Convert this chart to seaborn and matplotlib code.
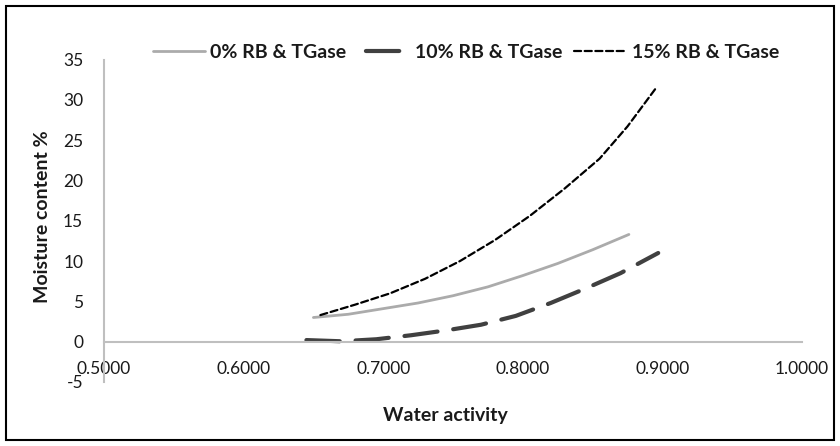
import numpy as np
import pandas as pd
import matplotlib
matplotlib.use('Agg')
import matplotlib.pyplot as plt
import seaborn as sns
from matplotlib.patches import Rectangle

# ---- data ----
series_names = ['0% RB & TGase', '10% RB & TGase', '15% RB & TGase']
aw_0 = [0.650, 0.675, 0.700, 0.725, 0.750, 0.775, 0.800, 0.825, 0.850, 0.876]
mc_0 = [3.0, 3.4, 4.1, 4.8, 5.7, 6.8, 8.2, 9.7, 11.4, 13.3]
aw_10 = [0.645, 0.670, 0.695, 0.720, 0.745, 0.770, 0.795, 0.820, 0.845, 0.870, 0.897]
mc_10 = [0.2, 0.05, 0.3, 0.8, 1.4, 2.1, 3.2, 4.8, 6.6, 8.5, 11.0]
aw_15 = [0.655, 0.680, 0.705, 0.730, 0.755, 0.780, 0.805, 0.830, 0.855, 0.875, 0.896]
mc_15 = [3.3, 4.6, 6.0, 7.8, 10.0, 12.6, 15.6, 19.0, 22.7, 26.7, 31.6]
x_ticks = [0.5, 0.6, 0.7, 0.8, 0.9, 1.0]
y_ticks = [-5, 0, 5, 10, 15, 20, 25, 30, 35]
x_title = 'Water activity'
y_title = 'Moisture content %'

sns.set_theme(style='white')
plt.rcParams['font.family'] = ['Lato', 'DejaVu Sans']

W, H = 840, 446
fig = plt.figure(figsize=(W / 100, H / 100), dpi=100)
ax = fig.add_axes([104 / W, 1 - 382 / H, (802 - 104) / W, (382 - 59.5) / H])

styles = [
    dict(color='#ababab', lw=2.0, linestyle='-'),
    dict(color='#404040', lw=3.0, linestyle=(0, (8, 3.8))),
    dict(color='#000000', lw=1.6, linestyle=(0, (3.2, 1.6))),
]
data = [(aw_0, mc_0), (aw_10, mc_10), (aw_15, mc_15)]
for name, (xs, ys), st in zip(series_names, data, styles):
    df = pd.DataFrame({'aw': xs, 'mc': ys})
    sns.lineplot(data=df, x='aw', y='mc', ax=ax, label=name, sort=True,
                 estimator=None, solid_capstyle='round', dash_capstyle='round', **st)

ax.set_xlim(0.5, 1.0)
ax.set_ylim(-5, 35)
ax.set_xticks(x_ticks)
ax.set_xticklabels([f'{v:.4f}' for v in x_ticks])
ax.set_yticks(y_ticks)
ax.set_yticklabels([str(v) for v in y_ticks])
ax.set_xlabel('')
ax.set_ylabel('')
for s in ['top', 'right']:
    ax.spines[s].set_visible(False)
ax.spines['bottom'].set_position(('data', 0))
for s in ['left', 'bottom']:
    ax.spines[s].set_color('#bfbfbf')
    ax.spines[s].set_linewidth(1.5)
ax.tick_params(axis='x', length=0, pad=14, labelsize=12.5, colors='#1a1a1a')
ax.tick_params(axis='y', length=0, pad=15, labelsize=12.5, colors='#1a1a1a')
ax.grid(False)
ax.patch.set_alpha(0)

fig.text(445 / W, 1 - 416 / H, x_title, ha='center', va='center',
         fontsize=14, fontweight='bold', color='#1a1a1a')
fig.text(43 / W, 1 - 217 / H, y_title, ha='center', va='center', rotation=90,
         fontsize=14, fontweight='bold', color='#1a1a1a')

leg = ax.legend(loc='center', bbox_to_anchor=(466 / W, 1 - 52.7 / H),
                bbox_transform=fig.transFigure, ncol=3, frameon=False,
                handlelength=2.7, handletextpad=0.25, columnspacing=0.6,
                prop={'size': 14, 'weight': 'bold'})
for t in leg.get_texts():
    t.set_color('#1a1a1a')
leg.get_lines()[1].set_linestyle((9.9, (8, 3.8)))

fig.patches.append(Rectangle((6 / W, 6 / H), (W - 12) / W, (H - 12) / H,
                             transform=fig.transFigure, fill=False,
                             edgecolor='black', linewidth=1.5))

fig.savefig('out.png', dpi=100)
